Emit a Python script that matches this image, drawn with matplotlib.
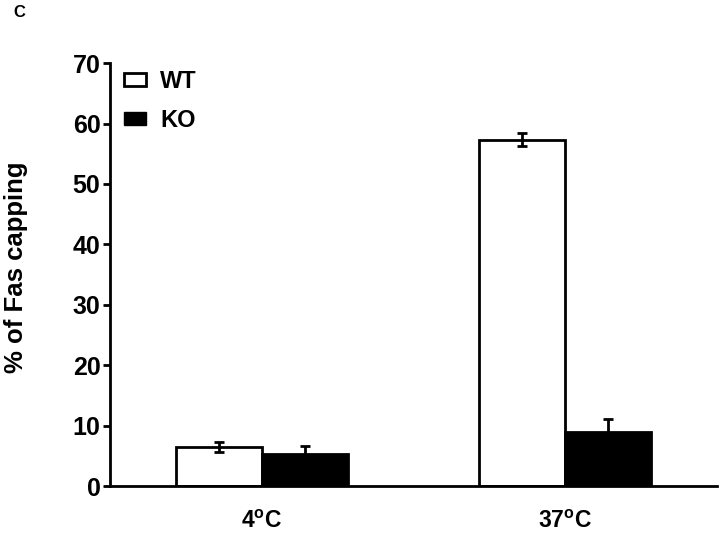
import numpy as np
import matplotlib.pyplot as plt
from matplotlib.patches import Patch

plt.rcParams['font.family'] = 'Liberation Sans'
plt.rcParams['font.weight'] = 'bold'
plt.rcParams['mathtext.fontset'] = 'custom'
plt.rcParams['mathtext.rm'] = 'Liberation Sans:bold'
plt.rcParams['mathtext.bf'] = 'Liberation Sans:bold'
plt.rcParams['mathtext.default'] = 'regular'

conditions = ['4$^{o}$C', '37$^{o}$C']
wt = [6.5, 57.3]
wt_err = [0.8, 1.1]
ko = [5.3, 8.9]
ko_err = [1.3, 2.2]

fig = plt.figure(figsize=(7.2, 5.39), dpi=100)
ax = fig.add_axes([0.153, 0.098, 0.843, 0.785])

x = np.arange(len(conditions))
w = 0.283
ax.bar(x - w/2, wt, w, color='white', edgecolor='black', linewidth=2,
       yerr=wt_err, error_kw=dict(ecolor='black', elinewidth=2, capsize=3.5, capthick=2))
ax.bar(x + w/2, ko, w, color='black', edgecolor='black', linewidth=2,
       yerr=ko_err, error_kw=dict(ecolor='black', elinewidth=2, capsize=3.5, capthick=2))

ax.set_xlim(-0.5, 1.5)
ax.set_ylim(0, 70)
ax.set_yticks(range(0, 71, 10))
ax.set_xticks(x)
ax.set_xticklabels(conditions, fontsize=16.5, fontweight='bold')
ax.tick_params(axis='x', length=0, pad=17)
ax.tick_params(axis='y', labelsize=18, width=2, length=5, pad=2)
for s in ['top', 'right']:
    ax.spines[s].set_visible(False)
for s in ['left', 'bottom']:
    ax.spines[s].set_linewidth(2)

ax.set_ylabel('% of Fas capping', fontsize=18.5, fontweight='bold')
ax.yaxis.set_label_coords(-0.135, 0.518)

handles = [Patch(facecolor='white', edgecolor='black', linewidth=2),
           Patch(facecolor='black', edgecolor='black')]
ax.legend(handles, ['WT', 'KO'], loc='upper left', bbox_to_anchor=(-0.012, 1.035),
          frameon=False, fontsize=17, handlelength=0.93, handleheight=0.47,
          labelspacing=0.7, handletextpad=0.6)

fig.text(0.018, 0.977, 'C', fontsize=12, fontweight='bold', ha='left', va='center')

fig.savefig('out.png', dpi=100)
